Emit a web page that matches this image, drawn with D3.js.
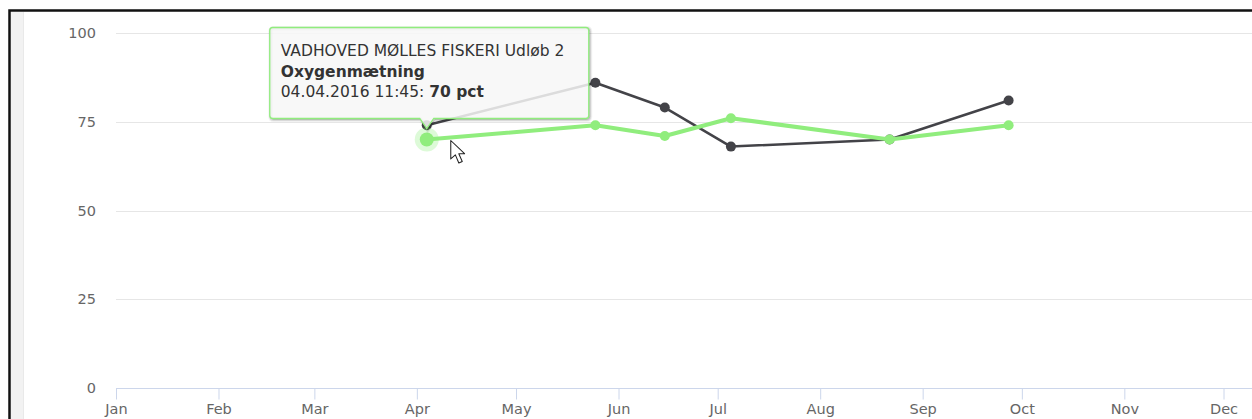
<!DOCTYPE html>
<html>
<head>
<meta charset="utf-8">
<script src="https://cdn.jsdelivr.net/npm/d3@7/dist/d3.min.js"></script>
<style>
  body { margin: 0; background: #fff; }
  svg { display: block; font-family: "DejaVu Sans", sans-serif; }
</style>
</head>
<body>
<div id="chart"></div>
<script>
    // two measurement series, same sampling dates
    var sampleDates = ["2016-04-04", "2016-05-25", "2016-06-15", "2016-07-05", "2016-08-22", "2016-09-27"]
    var darkValues = [74, 86, 79, 68, 70, 81]
    var greenValues = [70, 74, 71, 76, 70, 74]
    var yTicks = [0, 25, 50, 75, 100]
    var monthLabels = ["Jan", "Feb", "Mar", "Apr", "May", "Jun", "Jul", "Aug", "Sep", "Oct", "Nov", "Dec"]

    // tooltip shown for the hovered green point
    var hoverIndex = 0
    var tooltipStation = "VADHOVED MØLLES FISKERI Udløb 2"
    var tooltipParam = "Oxygenmætning"
    var tooltipTime = "04.04.2016 11:45: "
    var tooltipUnit = " pct"

    var width = 1252, height = 419
    var parseDate = d3.timeParse("%Y-%m-%d")

    var svg = d3.select("#chart").append("svg")
        .attr("width", width)
        .attr("height", height)

    // page frame around the chart
    svg.append("rect").attr("x", 11).attr("y", 12).attr("width", 12).attr("height", height)
        .attr("fill", "#f2f2f2")
    svg.append("line").attr("x1", 23.5).attr("x2", 23.5).attr("y1", 12).attr("y2", height)
        .attr("stroke", "#e9e9e9")
    svg.append("path").attr("d", "M9.5," + height + "V10.5H" + width)
        .attr("fill", "none").attr("stroke", "#111").attr("stroke-width", 2.5)

    var x = d3.scaleTime()
        .domain([new Date(2016, 0, 1), new Date(2017, 0, 1)])
        .range([116, 1326])
    var y = d3.scaleLinear().domain([0, 100]).range([388, 33])

    // grid
    svg.append("g").selectAll("line")
        .data(yTicks.filter(d => d > 0))
        .join("line")
            .attr("x1", 116).attr("x2", width)
            .attr("y1", d => Math.round(y(d)) + 0.5)
            .attr("y2", d => Math.round(y(d)) + 0.5)
            .attr("stroke", "#e6e6e6")

    // y labels
    svg.append("g").selectAll("text")
        .data(yTicks)
        .join("text")
            .attr("x", 96)
            .attr("y", d => y(d) + 5)
            .attr("text-anchor", "end")
            .attr("fill", "#666")
            .attr("font-size", "14.5px")
            .text(d => d)

    // x axis
    var months = d3.range(12).map(m => new Date(2016, m, 1))
    var xAxis = d3.axisBottom(x)
        .tickValues(months)
        .tickSize(11)
        .tickPadding(4)
        .tickFormat((d, i) => monthLabels[i])
    var gx = svg.append("g")
        .attr("transform", "translate(0," + (y(0) + 0.5) + ")")
        .call(xAxis)
    gx.select(".domain").attr("stroke", "#ccd6eb").attr("d", "M116,0H" + width)
    gx.selectAll(".tick line").attr("stroke", "#ccd6eb")
    gx.selectAll(".tick text")
        .attr("fill", "#666")
        .attr("font-size", "14.5px")
        .attr("font-family", "DejaVu Sans, sans-serif")

    function series(values) {
        return values.map((v, i) => ({date: parseDate(sampleDates[i]), value: v}))
    }

    var line = d3.line().x(d => x(d.date)).y(d => y(d.value))

    function drawSeries(data, color, lineWidth, r) {
        var g = svg.append("g")
        g.append("path")
            .datum(data)
            .attr("d", line)
            .attr("fill", "none")
            .attr("stroke", color)
            .attr("stroke-width", lineWidth)
            .attr("stroke-linejoin", "round")
        g.selectAll("circle")
            .data(data)
            .join("circle")
                .attr("cx", d => x(d.date))
                .attr("cy", d => y(d.value))
                .attr("r", r)
                .attr("fill", color)
        return g
    }

    var dark = series(darkValues)
    var green = series(greenValues)

    drawSeries(dark, "#434348", 2.5, 5)
    var greenG = drawSeries(green, "#90ed7d", 4, 5)

    // hover state: halo and bigger marker
    var hp = green[hoverIndex]
    var px = x(hp.date), py = y(hp.value)
    greenG.insert("circle", "circle")
        .attr("cx", px).attr("cy", py).attr("r", 12)
        .attr("fill", "#90ed7d").attr("opacity", 0.3)
    greenG.selectAll("circle").filter(d => d && d === hp)
        .attr("r", 7)

    // tooltip callout (box edges relative to the hovered point)
    var boxL = px - 157, boxT = 27.5, boxR = px + 162, boxB = 118.5, rr = 3
    var tipY = py - 11
    var callout = "M" + (boxL + rr) + "," + boxT + "H" + (boxR - rr) +
        "Q" + boxR + "," + boxT + " " + boxR + "," + (boxT + rr) +
        "V" + (boxB - rr) +
        "Q" + boxR + "," + boxB + " " + (boxR - rr) + "," + boxB +
        "H" + (px + 7) + "L" + px + "," + tipY + "L" + (px - 7) + "," + boxB +
        "H" + (boxL + rr) +
        "Q" + boxL + "," + boxB + " " + boxL + "," + (boxB - rr) +
        "V" + (boxT + rr) +
        "Q" + boxL + "," + boxT + " " + (boxL + rr) + "," + boxT + "Z"

    var tip = svg.append("g")
    var shadows = [[5, 0.05], [3, 0.1], [1, 0.15]]
    shadows.forEach(s => {
        tip.append("path").attr("d", callout)
            .attr("transform", "translate(1,1)")
            .attr("fill", "none").attr("stroke", "#000")
            .attr("stroke-opacity", s[1]).attr("stroke-width", s[0])
    })
    tip.append("path").attr("d", callout)
        .attr("fill", "rgba(247,247,247,0.85)")
        .attr("stroke", "#90ed7d")
        .attr("stroke-width", 1.3)

    var tt = tip.append("text")
        .attr("x", boxL + 11)
        .attr("fill", "#333")
        .attr("font-size", "15.5px")
    tt.append("tspan").attr("x", boxL + 11).attr("y", 56).text(tooltipStation)
    tt.append("tspan").attr("x", boxL + 11).attr("y", 76.5)
        .attr("font-weight", "bold").text(tooltipParam)
    tt.append("tspan").attr("x", boxL + 11).attr("y", 97).text(tooltipTime)
    tt.append("tspan").attr("font-weight", "bold").text(hp.value + tooltipUnit)

    // mouse pointer next to the hovered point
    svg.append("path")
        .attr("transform", "translate(" + (px + 24) + "," + (py + 1) + ") scale(1.15)")
        .attr("d", "M0,0V16L4,12.5L7,19.5L10,18.2L7,11.5H12Z")
        .attr("fill", "#fff")
        .attr("stroke", "#222")
        .attr("stroke-width", 0.9)
        .attr("stroke-linejoin", "round")
</script>
</body>
</html>
